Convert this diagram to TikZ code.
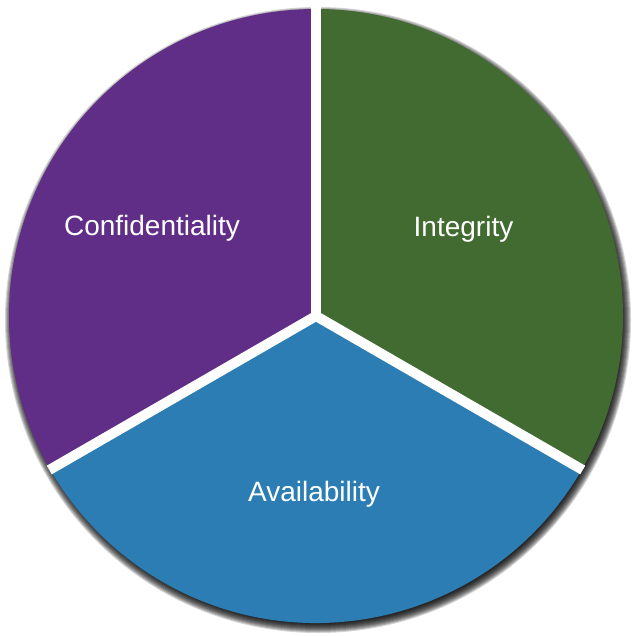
\documentclass[tikz,border=0pt]{standalone}
\usepackage{fontspec}
\setmainfont{Liberation Sans}
\definecolor{cpurple}{HTML}{602D87}
\definecolor{cgreen}{HTML}{426B31}
\definecolor{cblue}{HTML}{2B7DB3}
\begin{document}
\begin{tikzpicture}[x=1pt,y=-1pt,
  lbl/.style={text=white,font=\fontsize{28}{34}\selectfont,inner sep=0pt,anchor=base},
  gap/.style={white,line width=10pt},
  shade/.style={black,fill opacity=0.17}]
\useasboundingbox (0,0) rectangle (636,636);
\coordinate (c) at (316,316);
\coordinate (sc) at (318,320);
% shadow
\foreach \k in {0,...,9} {
  \fill[shade] (sc) circle ({304+\k});
}
% sectors
\fill[cpurple] (c) -- ++(270:307) arc[start angle=270,end angle=150,radius=307] -- cycle;
\fill[cgreen] (c) -- ++(270:307) arc[start angle=270,end angle=390,radius=307] -- cycle;
\fill[cblue] (c) -- ++(30:307) arc[start angle=30,end angle=150,radius=307] -- cycle;
% separators
\draw[gap] (c) -- ++(270:316);
\draw[gap] (c) -- ++(30:308);
\draw[gap] (c) -- ++(150:308);
% labels
\node[lbl] (conf) at (152,235) {Confidentiality};
\node[lbl] (integ) at (463.5,236) {Integrity};
\node[lbl] (avail) at (314,501) {Availability};
\end{tikzpicture}
\end{document}
